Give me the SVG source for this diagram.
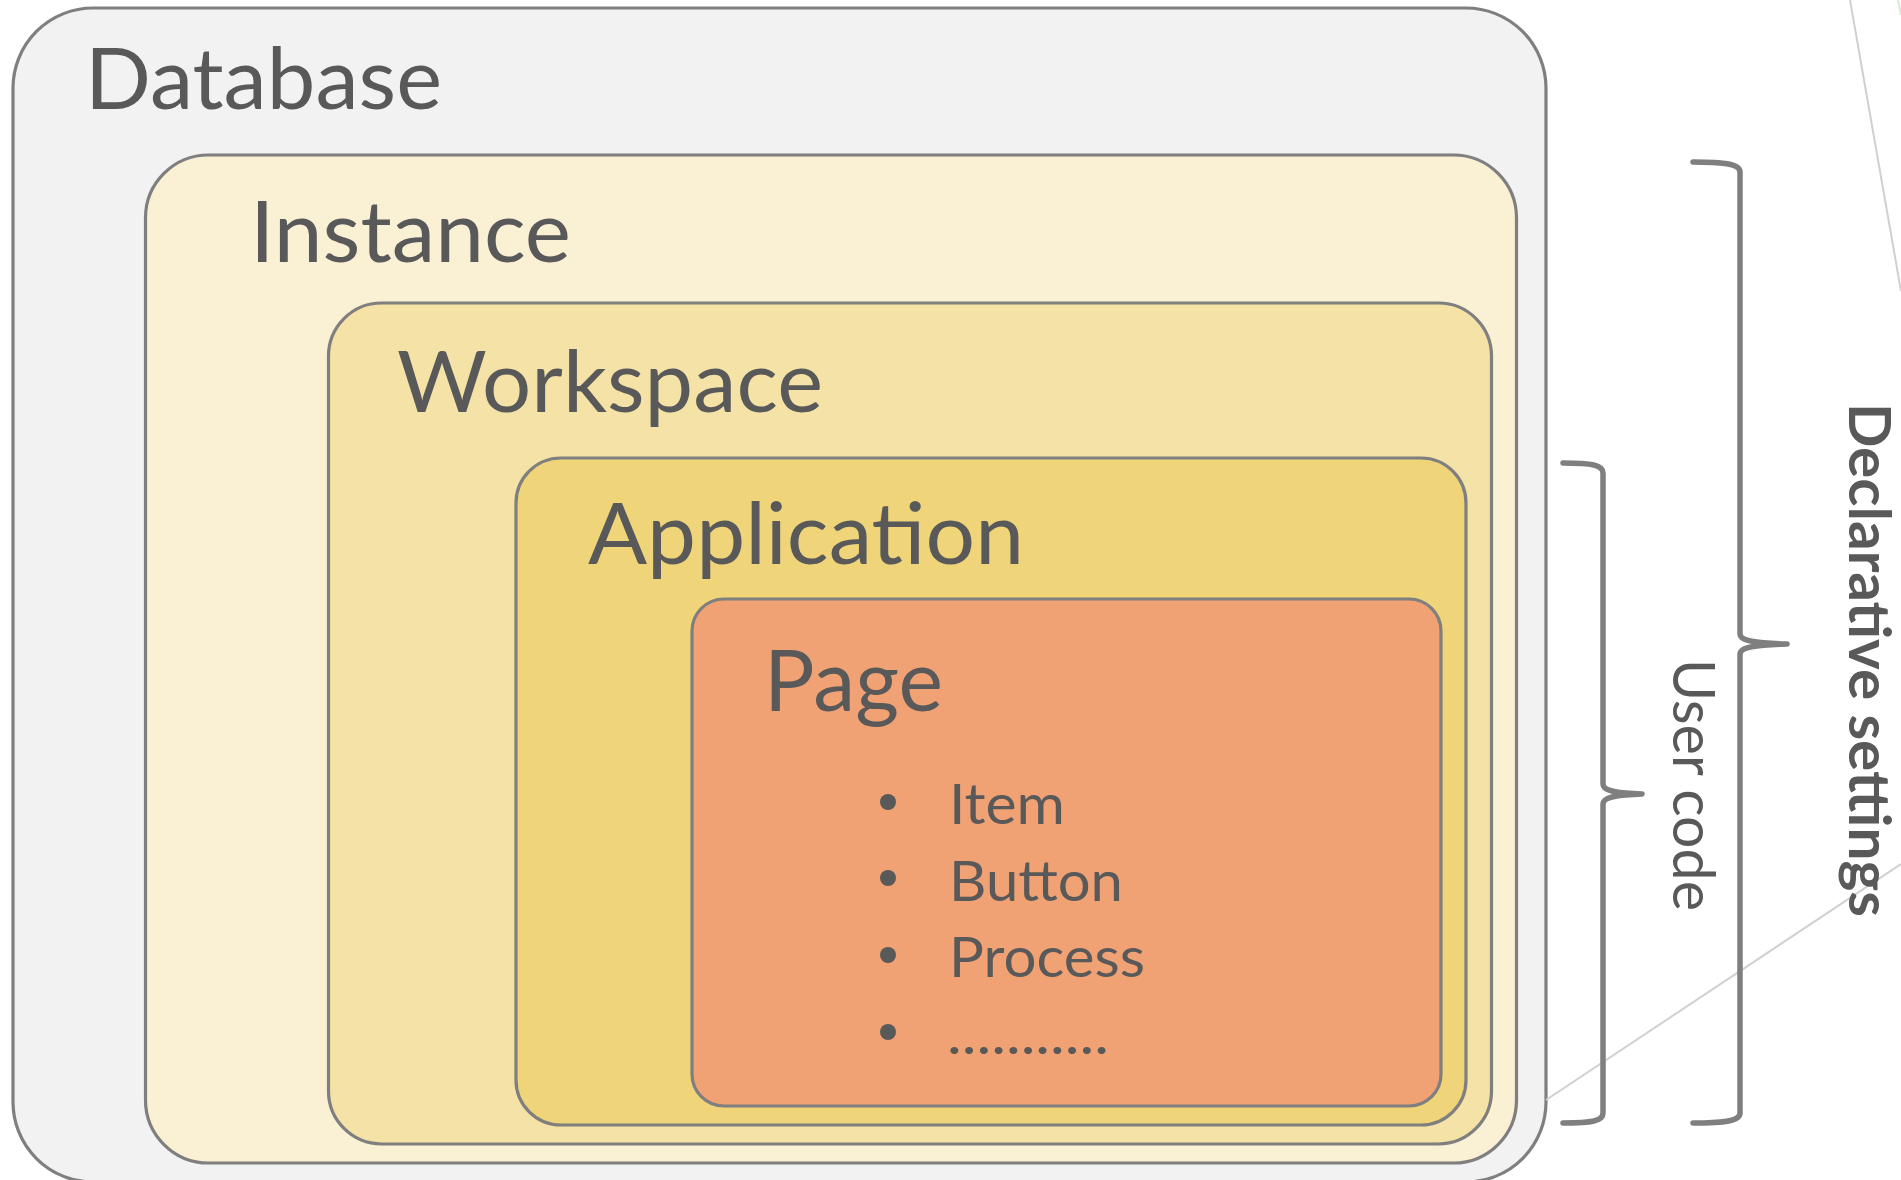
<svg xmlns="http://www.w3.org/2000/svg" width="1901" height="1180" viewBox="0 0 1901 1180">
<style>
.box{stroke:#7f7f7f;stroke-width:3.2}
.lbl{font-family:Lato,"Liberation Sans",sans-serif;font-size:85px;fill:#595959}
.item{font-family:Lato,"Liberation Sans",sans-serif;font-size:56px;fill:#595959}
.side{font-family:Lato,"Liberation Sans",sans-serif;font-size:58px;fill:#595959}
.brace{fill:none;stroke:#7f7f7f;stroke-width:5.5;stroke-linecap:round;stroke-linejoin:round}
.thin{stroke:#d0d0d0;stroke-width:2;fill:none}
.dot{fill:#595959}
</style>
<rect width="1901" height="1180" fill="#ffffff"/>
<g id="connectors">
<line class="thin" x1="1850" y1="0" x2="1901" y2="291"/>
<line x1="1898" y1="0" x2="1901" y2="15" stroke="#d9ead3" stroke-width="2"/>
</g>
<g id="database">
<rect class="box" x="13" y="8" width="1533" height="1174" rx="80" fill="#f2f2f2"/>
<text class="lbl" x="85" y="109" textLength="357" lengthAdjust="spacingAndGlyphs">Database</text>
</g>
<g id="connectors-2">
<line class="thin" x1="1546" y1="1100" x2="1901" y2="864"/>
</g>
<g id="instance">
<rect class="box" x="145.5" y="155" width="1371" height="1008" rx="63" fill="#faf0d3"/>
<text class="lbl" x="250" y="262" textLength="321" lengthAdjust="spacingAndGlyphs">Instance</text>
</g>
<g id="workspace">
<rect class="box" x="328.5" y="303" width="1163" height="841" rx="53" fill="#f5e2a6"/>
<text class="lbl" x="397" y="412" textLength="426" lengthAdjust="spacingAndGlyphs">Workspace</text>
</g>
<g id="application">
<rect class="box" x="516" y="458" width="950" height="667" rx="45" fill="#efd47a"/>
<text class="lbl" x="588" y="564" textLength="436" lengthAdjust="spacingAndGlyphs">Application</text>
</g>
<g id="page">
<rect class="box" x="692" y="599" width="749" height="507" rx="32" fill="#f0a274"/>
<text class="lbl" x="764" y="711" textLength="179" lengthAdjust="spacingAndGlyphs">Page</text>
<circle class="dot" cx="888" cy="802" r="8"/>
<circle class="dot" cx="888" cy="878" r="8"/>
<circle class="dot" cx="888" cy="955" r="8"/>
<circle class="dot" cx="888" cy="1032" r="8"/>
<text class="item" x="949" y="824" textLength="116" lengthAdjust="spacingAndGlyphs">Item</text>
<text class="item" x="949" y="901" textLength="174" lengthAdjust="spacingAndGlyphs">Button</text>
<text class="item" x="949" y="977" textLength="196" lengthAdjust="spacingAndGlyphs">Process</text>
<text class="item" x="947" y="1054" textLength="162" lengthAdjust="spacingAndGlyphs">...........</text>
</g>
<g id="user-code">
<path class="brace" d="M1563,463 C1592,463 1603,465 1603,473 L1603,784 C1603,790 1612,793 1642,794 C1612,795 1603,798 1603,804 L1603,1113 C1603,1121 1592,1123 1563,1123"/>
<text class="side" transform="translate(1673,659) rotate(90)" textLength="252" lengthAdjust="spacingAndGlyphs">User code</text>
</g>
<g id="declarative-settings">
<path class="brace" d="M1693,162 C1725,162 1740,164 1740,172 L1740,634 C1740,640 1750,643 1787,644 C1750,645 1740,648 1740,654 L1740,1113 C1740,1121 1725,1123 1693,1123"/>
<text class="side" font-weight="bold" transform="translate(1849,403) rotate(90)" textLength="514" lengthAdjust="spacingAndGlyphs">Declarative settings</text>
</g>
</svg>
